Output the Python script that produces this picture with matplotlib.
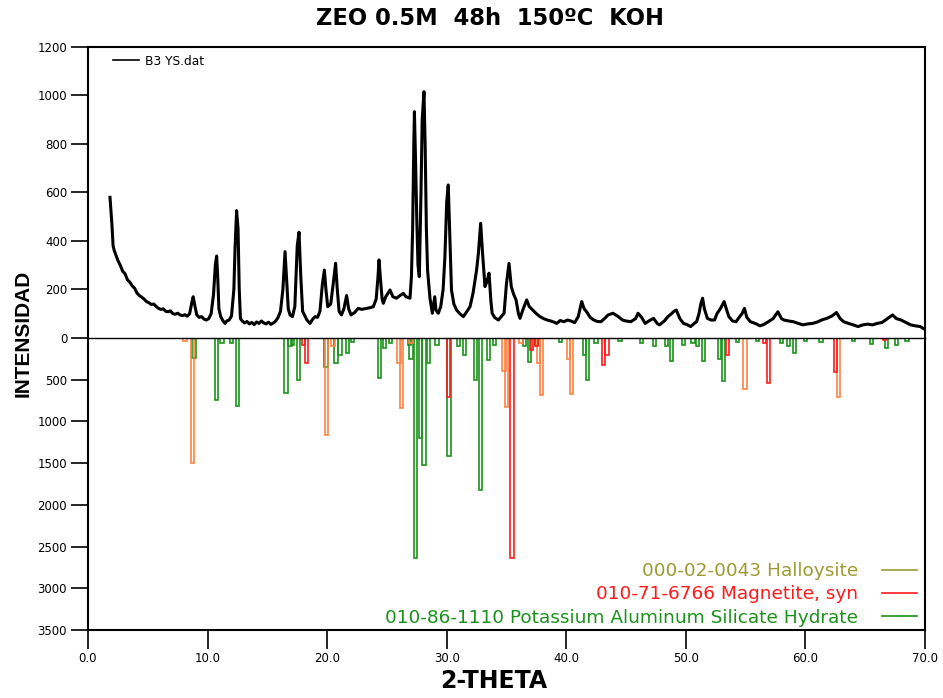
import matplotlib
matplotlib.use("Agg")
import matplotlib.pyplot as plt
from matplotlib.lines import Line2D

plt.rcParams['font.family'] = ['DejaVu Sans']

theta_obs = [1.84, 1.9, 2.0, 2.1, 2.2, 2.35, 2.5, 2.7, 2.9, 3.1, 3.3, 3.5, 3.7, 3.9, 4.1, 4.3, 4.5,
             4.7, 4.9, 5.1, 5.3, 5.5, 5.7, 5.9, 6.1, 6.3, 6.5, 6.7, 6.9, 7.1, 7.3, 7.5, 7.7, 7.9,
             8.1, 8.3, 8.5, 8.7, 8.8, 8.95, 9.1, 9.3, 9.5, 9.7, 9.9, 10.1, 10.3, 10.5, 10.65, 10.76,
             10.85, 10.95, 11.1, 11.3, 11.46, 11.6, 11.8, 12.0, 12.2, 12.3, 12.43, 12.55, 12.65,
             12.75, 12.9, 13.1, 13.3, 13.5, 13.7, 13.9, 14.1, 14.3, 14.5, 14.7, 14.9, 15.1, 15.3,
             15.5, 15.7, 15.9, 16.1, 16.3, 16.48, 16.6, 16.75, 16.9, 17.1, 17.3, 17.5, 17.65, 17.8,
             17.95, 18.1, 18.3, 18.57, 18.8, 19.0, 19.2, 19.4, 19.6, 19.77, 19.9, 20.05, 20.3, 20.5,
             20.71, 20.85, 21.0, 21.2, 21.4, 21.63, 21.8, 22.0, 22.3, 22.6, 22.9, 23.3, 23.6, 23.86,
             24.1, 24.25, 24.34, 24.45, 24.6, 24.7, 24.9, 25.1, 25.26, 25.5, 25.8, 26.1, 26.37, 26.6,
             26.93, 27.05, 27.15, 27.25, 27.3, 27.4, 27.5, 27.6, 27.71, 27.85, 27.95, 28.1, 28.2,
             28.3, 28.4, 28.6, 28.8, 29.0, 29.1, 29.3, 29.5, 29.7, 29.85, 30.0, 30.13, 30.25, 30.4,
             30.6, 30.83, 31.1, 31.39, 31.7, 31.95, 32.2, 32.5, 32.65, 32.84, 33.0, 33.2, 33.35,
             33.54, 33.7, 33.8, 34.0, 34.32, 34.6, 34.8, 35.0, 35.21, 35.4, 35.6, 35.8, 36.0, 36.13,
             36.4, 36.69, 36.9, 37.2, 37.5, 37.8, 38.1, 38.4, 38.7, 39.0, 39.2, 39.5, 39.8, 40.1,
             40.4, 40.7, 41.0, 41.1, 41.29, 41.5, 41.7, 42.0, 42.3, 42.6, 42.9, 43.2, 43.5, 43.9,
             44.3, 44.7, 45.0, 45.4, 45.8, 46.0, 46.3, 46.6, 46.9, 47.3, 47.6, 47.8, 48.2, 48.5,
             48.8, 49.0, 49.2, 49.5, 49.8, 50.1, 50.4, 50.7, 50.9, 51.1, 51.25, 51.4, 51.55, 51.8,
             52.1, 52.4, 52.6, 52.9, 53.2, 53.45, 53.6, 53.9, 54.2, 54.5, 54.7, 54.9, 55.1, 55.4,
             55.8, 56.2, 56.5, 56.9, 57.3, 57.7, 58.0, 58.2, 58.6, 59.0, 59.4, 59.8, 60.2, 60.6,
             61.0, 61.4, 61.8, 62.2, 62.6, 62.9, 63.2, 63.6, 64.0, 64.4, 64.8, 65.2, 65.6, 66.0,
             66.4, 66.7, 67.0, 67.3, 67.6, 68.0, 68.4, 68.8, 69.2, 69.6, 70.0]
counts_obs = [580, 540, 470, 380, 360, 340, 320, 300, 275, 265, 240, 230, 215, 205, 185, 175, 168,
              160, 150, 145, 138, 140, 130, 122, 118, 120, 110, 108, 112, 100, 98, 102, 95, 92,
              96, 90, 100, 150, 170, 130, 95, 85, 88, 78, 74, 80, 100, 180, 300, 338,
              250, 120, 88, 70, 60, 70, 74, 90, 200, 371, 525, 450, 200,
              80, 70, 62, 68, 58, 64, 55, 66, 60, 70, 62, 58, 65, 56,
              62, 70, 85, 110, 200, 356, 250, 120, 95, 88, 130, 380, 436, 250,
              110, 95, 75, 60, 78, 88, 85, 110, 220, 280, 200, 129, 140, 220,
              308, 200, 110, 95, 120, 175, 120, 95, 105, 122, 118, 122, 125, 129,
              160, 250, 322, 250, 160, 143, 170, 185, 198, 170, 164, 175, 184, 170,
              164, 253, 445, 800, 933, 720, 487, 300, 253, 600, 899, 1016, 789,
              450, 280, 164, 102, 170, 115, 102, 129, 200, 335, 560, 631, 432, 198,
              140, 115, 100, 88, 110, 129, 184, 280, 349, 473, 349, 212, 230,
              267, 150, 102, 85, 74, 90, 102, 225, 308, 212, 180, 157, 100, 81,
              120, 157, 130, 115, 100, 88, 80, 74, 70, 65, 60, 72, 67, 74,
              70, 63, 88, 110, 150, 120, 108, 85, 74, 68, 67, 80, 95, 102,
              90, 74, 70, 67, 80, 102, 85, 60, 70, 81, 60, 54, 70, 88,
              100, 110, 115, 80, 60, 55, 47, 60, 67, 100, 140, 164, 120, 81,
              74, 74, 100, 122, 150, 110, 88, 70, 67, 88, 100, 122, 85, 67,
              60, 50, 55, 67, 80, 108, 80, 74, 70, 67, 60, 54, 58, 60,
              66, 75, 81, 90, 105, 80, 67, 60, 54, 47, 54, 57, 54, 60,
              64, 74, 85, 95, 80, 74, 64, 54, 50, 47, 35]

# reference patterns: peak position (2-theta) and intensity
halloysite_pos = [8.1, 8.75, 19.96, 20.5, 26.0, 26.24, 27.0, 34.8, 35.0, 36.2, 37.7, 37.94,
                  40.2, 40.45, 54.95, 62.75]
halloysite_int = [40, 1494, 1163, 100, 300, 843, 60, 400, 823, 60, 300, 683,
                  250, 671, 611, 703]

magnetite_pos = [18.0, 18.29, 30.13, 35.46, 37.1, 37.5, 43.1, 43.4, 53.5, 56.6, 56.9, 62.5, 66.6]
magnetite_int = [80, 303, 703, 2637, 140, 100, 324, 200, 204, 60, 543, 404, 30]

kash_pos = [8.87, 10.76, 11.2, 12.0, 12.52, 16.56, 16.9, 17.1, 17.59, 19.9, 20.74, 21.08, 21.69,
            22.1, 24.37, 24.8, 25.3, 26.9, 27.0, 27.4, 27.8, 28.1, 28.5, 29.2, 30.2, 31.0,
            31.5, 32.4, 32.8, 33.5, 34.0, 36.5, 36.9, 37.5, 39.5, 41.5, 41.76, 42.5, 44.5,
            46.3, 47.4, 48.4, 48.8, 49.8, 50.6, 51.0, 51.46, 52.8, 53.13, 54.3, 56.0, 58.0,
            58.6, 59.1, 60.0, 61.3, 64.0, 65.5, 66.8, 67.6, 68.5]
kash_int = [244, 743, 60, 60, 815, 663, 100, 80, 500, 344, 303, 200, 175,
            50, 483, 120, 60, 80, 250, 2637, 1200, 1522, 300, 80, 1414, 100,
            200, 500, 1822, 264, 80, 100, 284, 80, 50, 200, 503, 60, 40,
            60, 100, 100, 272, 80, 60, 100, 272, 250, 511, 50, 40, 60,
            100, 184, 40, 50, 40, 70, 124, 80, 40]

legend_labels = ['000-02-0043 Halloysite', '010-71-6766 Magnetite, syn',
                 '010-86-1110 Potassium Aluminum Silicate Hydrate']
legend_colors = ['#9c9a30', '#ff1a1a', '#1a921a']

fig = plt.figure(figsize=(9.43, 6.98), dpi=100)
ax1 = fig.add_axes([0.0933, 0.5158, 0.8876, 0.4169])
ax2 = fig.add_axes([0.0933, 0.0974, 0.8876, 0.4184])

# upper panel: measured scan
ax1.plot(theta_obs, counts_obs, color='black', lw=2.2, label='B3 YS.dat')
ax1.set_xlim(0, 70)
ax1.set_ylim(0, 1200)
ax1.set_yticks(range(0, 1201, 200))
ax1.set_xticks([])
ax1.spines['bottom'].set_visible(False)
for s in ['left', 'top', 'right']:
    ax1.spines[s].set_linewidth(1.5)
ax1.tick_params(axis='y', length=12, width=1.2, pad=3, labelsize=8.5)
leg1 = ax1.legend(loc='upper left', bbox_to_anchor=(0.0299, 0.974), frameon=False, fontsize=8.8,
                  handlelength=2.1, handletextpad=0.55, borderpad=0, borderaxespad=0)
for ln in leg1.get_lines():
    ln.set_linewidth(1.2)

# lower panel: reference patterns, drawn downwards
ax2.bar(kash_pos, kash_int, width=0.28, fill=False, edgecolor='#1a921a', linewidth=1.2)
ax2.bar(halloysite_pos, halloysite_int, width=0.28, fill=False, edgecolor='#ff8040', linewidth=1.2)
ax2.bar(magnetite_pos, magnetite_int, width=0.28, fill=False, edgecolor='#ff1a1a', linewidth=1.2)
ax2.set_xlim(0, 70)
ax2.set_ylim(3500, 0)
ax2.set_yticks(range(500, 3501, 500))
ax2.set_xticks(range(0, 71, 10))
ax2.set_xticklabels([f'{v:.1f}' for v in range(0, 71, 10)])
ax2.spines['top'].set_linewidth(1.0)
for s in ['left', 'bottom', 'right']:
    ax2.spines[s].set_linewidth(1.5)
ax2.tick_params(axis='y', length=12, width=1.2, pad=3, labelsize=8.5)
ax2.tick_params(axis='x', length=14, width=1.2, pad=2, labelsize=8.5)

handles = [Line2D([], [], color=c, lw=1.2) for c in legend_colors]
ax2.legend(handles, legend_labels, loc='lower right', bbox_to_anchor=(0.99, 0.012),
           frameon=False, fontsize=13.3, markerfirst=False, labelcolor=legend_colors,
           handlelength=1.85, handletextpad=1.3, labelspacing=0.28, borderpad=0,
           borderaxespad=0)

fig.text(0.5196, 0.973, 'ZEO 0.5M  48h  150ºC  KOH', ha='center', va='center',
         fontsize=16.3, fontweight='bold')
fig.text(0.0244, 0.523, 'INTENSIDAD', rotation=90, ha='center', va='center',
         fontsize=15, fontweight='bold', family='Liberation Sans')
fig.text(0.5239, 0.024, '2-THETA', ha='center', va='center', fontsize=17, fontweight='bold')

fig.savefig('out.png', dpi=100)
